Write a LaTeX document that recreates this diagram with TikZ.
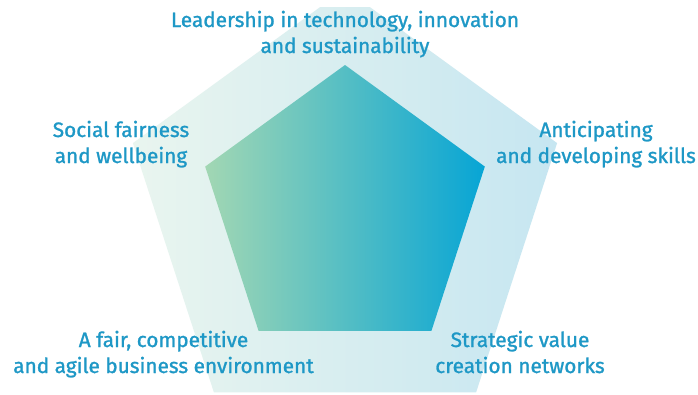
\documentclass[tikz,border=0pt]{standalone}
\usepackage{fontspec}
\setmainfont[FakeBold=1.2]{Fira Sans}
\usetikzlibrary{calc}
\definecolor{txt}{HTML}{1E98C6}
\definecolor{outerL}{HTML}{E9F5EF}
\definecolor{outerR}{HTML}{C6E6F1}
\definecolor{innerL}{HTML}{A2D7B3}
\definecolor{innerR}{HTML}{07A5D5}
\begin{document}
\begin{tikzpicture}[x=1pt,y=1pt,
  lbl/.style={font=\fontsize{20.8}{26}\selectfont, text=txt, align=center, anchor=base, inner sep=0pt}]
\useasboundingbox (0,0) rectangle (698,-394);
\fill[white] (0,0) rectangle (698,-394);
\coordinate (c) at (345,-212);
\begin{scope}
  \clip (0,-7) rectangle (698,-394);
  \shade[left color=outerL, right color=outerR]
    ($(c)+(90:223)$) -- ($(c)+(18:223)$) -- ($(c)+(-54:223)$) -- ($(c)+(-126:223)$) -- ($(c)+(162:223)$) -- cycle;
\end{scope}
\shade[left color=innerL, right color=innerR]
  ($(c)+(90:147)$) -- ($(c)+(18:147)$) -- ($(c)+(-54:147)$) -- ($(c)+(-126:147)$) -- ($(c)+(162:147)$) -- cycle;
\node[lbl] (top) at (345,-53) {Leadership in technology, innovation\\and sustainability};
\node[lbl] (social) at (121,-163) {Social fairness\\and wellbeing};
\node[lbl] (skills) at (596,-163) {Anticipating\\and developing skills};
\node[lbl] (fair) at (163.5,-373) {A fair, competitive\\and agile business environment};
\node[lbl] (value) at (520,-373) {Strategic value\\creation networks};
\end{tikzpicture}
\end{document}
